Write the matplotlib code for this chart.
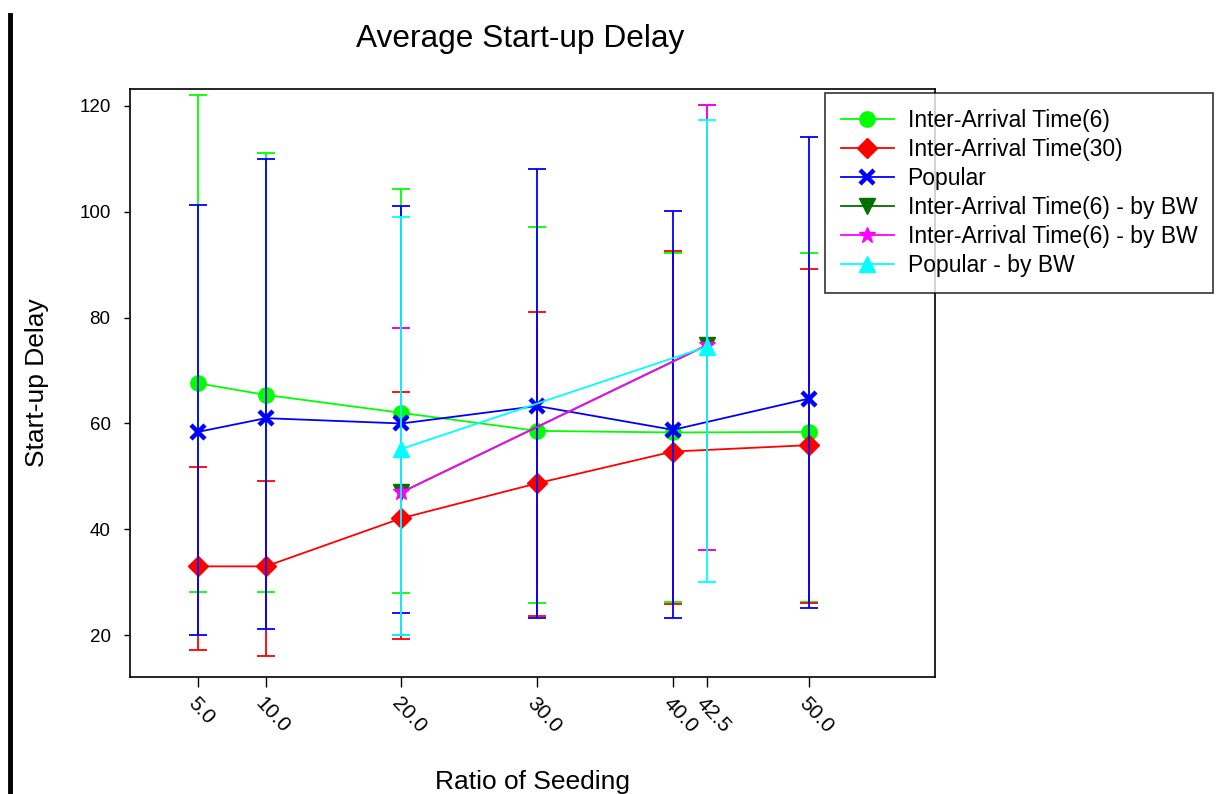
import numpy as np
import matplotlib.pyplot as plt
from matplotlib.lines import Line2D

plt.rcParams['font.family'] = ['Liberation Sans', 'DejaVu Sans']

# Ratio of seeding (x) for each series
x_all = [5.0, 10.0, 20.0, 30.0, 40.0, 50.0]
x_bw = [20.0, 42.5]
tick_pos = [5.0, 10.0, 20.0, 30.0, 40.0, 42.5, 50.0]
tick_lab = ["5.0", "10.0", "20.0", "30.0", "40.0", "42.5", "50.0"]

# mean start-up delay, with lower / upper ends of the error bars
iat6_mean = [67.6, 65.4, 62.0, 58.6, 58.3, 58.4]
iat6_low = [28.1, 28.1, 27.9, 26.0, 26.2, 26.2]
iat6_high = [122.1, 111.2, 104.3, 97.2, 92.2, 92.2]

iat30_mean = [33.0, 33.0, 42.1, 48.7, 54.7, 55.9]
iat30_low = [17.2, 16.1, 19.3, 23.6, 25.8, 26.1]
iat30_high = [51.7, 49.1, 65.9, 81.1, 92.5, 89.1]

pop_mean = [58.4, 61.0, 60.0, 63.3, 58.8, 64.7]
pop_low = [20.1, 21.1, 24.2, 23.2, 23.2, 25.1]
pop_high = [101.3, 110.0, 101.1, 108.1, 100.1, 114.1]

iat6bw_mean = [47.0, 74.8]
iat6bw_low = [20.0, 36.1]
iat6bw_high = [78.1, 120.2]

iat6bw2_mean = [47.0, 74.8]
iat6bw2_low = [20.0, 36.1]
iat6bw2_high = [78.1, 120.2]

popbw_mean = [55.2, 74.5]
popbw_low = [20.1, 30.1]
popbw_high = [99.1, 117.4]

series = [
    ("Inter-Arrival Time(6)", x_all, iat6_mean, iat6_low, iat6_high, "#00ff00", "o", 11),
    ("Inter-Arrival Time(30)", x_all, iat30_mean, iat30_low, iat30_high, "#ff0000", "D", 10),
    ("Popular", x_all, pop_mean, pop_low, pop_high, "#0000ff", "x", 10),
    ("Inter-Arrival Time(6) - by BW", x_bw, iat6bw_mean, iat6bw_low, iat6bw_high, "#007000", "v", 11),
    ("Inter-Arrival Time(6) - by BW", x_bw, iat6bw2_mean, iat6bw2_low, iat6bw2_high, "#ff00ff", "*", 12),
    ("Popular - by BW", x_bw, popbw_mean, popbw_low, popbw_high, "#00ffff", "^", 11),
]

fig = plt.figure(figsize=(12.17, 7.94), dpi=100)
ax = fig.add_axes([0.1068, 0.1474, 0.6615, 0.7405])

handles = []
for name, xs, m, lo, hi, col, mk, ms in series:
    m = np.array(m)
    err = [m - np.array(lo), np.array(hi) - m]
    ax.errorbar(xs, m, yerr=err, fmt="none", ecolor=col, elinewidth=1.3,
                capsize=6.5, capthick=1.3)
    ln, = ax.plot(xs, m, color=col, marker=mk, markersize=ms,
                  markeredgewidth=3.2 if mk == "x" else 1, linewidth=1.3,
                  label=name)
    handles.append(ln)

ax.set_xlim(0, 59.3)
ax.set_ylim(12.1, 123.2)
ax.set_yticks([20, 40, 60, 80, 100, 120])
ax.set_xticks(tick_pos)
ax.set_xticklabels(tick_lab, rotation=-47, ha="left", va="top",
                   rotation_mode="anchor")
ax.tick_params(axis="both", direction="out", width=1)
ax.tick_params(axis="x", length=7, pad=5, labelsize=15)
ax.tick_params(axis="y", length=4, pad=10, labelsize=13.5)
for s in ax.spines.values():
    s.set_linewidth(1.2)

ax.set_title("Average Start-up Delay", fontsize=22.8, pad=30, x=0.485)
ax.set_xlabel("Ratio of Seeding", fontsize=19, labelpad=24)
ax.set_ylabel("Start-up Delay", fontsize=19, labelpad=22)

leg = fig.legend(handles=handles, loc="upper left",
                 bbox_to_anchor=(825 / 1217, 1 - 93 / 794),
                 fontsize=16.5, frameon=True, fancybox=False,
                 edgecolor="black", borderpad=0.7, handlelength=2.3,
                 handletextpad=0.6, labelspacing=0.26, borderaxespad=0)
leg.get_frame().set_linewidth(1.2)

# heavy rule along the left edge
fig.add_artist(Line2D([10 / 1217, 10 / 1217], [0, 1 - 15 / 794],
                      color="black", linewidth=3.5, transform=fig.transFigure))

fig.savefig("out.png", dpi=100)
